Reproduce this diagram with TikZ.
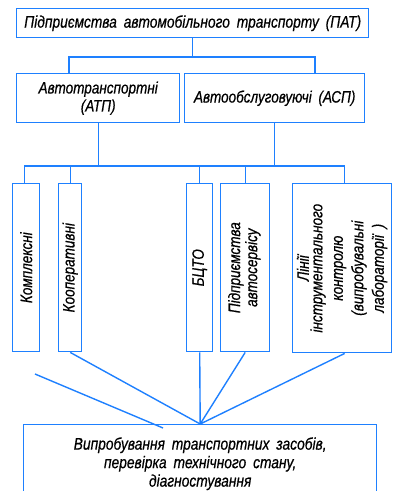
\documentclass[tikz,border=0pt]{standalone}
\usepackage{fontspec}
\newfontfamily\nf[FakeStretch=0.82,WordSpace=1.8,FakeBold=0.6]{Liberation Sans}
\definecolor{ln}{RGB}{30,128,255}
\begin{document}
\begin{tikzpicture}[x=1pt,y=-1pt,
  bx/.style={draw=ln,line width=1.4pt,inner sep=0pt,anchor=north west,align=center},
  cn/.style={draw=ln,line width=1.4pt},
  ta/.style={font=\nf\itshape\fontsize{16.8}{18.5}\selectfont},
  tb/.style={font=\nf\itshape\fontsize{16.5}{18}\selectfont},
  tv/.style={font=\nf\itshape\fontsize{16.5}{17}\selectfont}]
\useasboundingbox (0,0) rectangle (392,491);
\clip (0,0) rectangle (392,491);
\node[bx,ta,minimum width=352,minimum height=29] (pat) at (16,8) {Підприємства автомобільного транспорту (ПАТ)};
\node[bx,tb,minimum width=163,minimum height=49] (atp) at (16,73) {Автотранспортні\\(АТП)};
\node[bx,tb,minimum width=180,minimum height=49] (asp) at (184,73) {Автообслуговуючі (АСП)};
\node[bx,tv,minimum width=27,minimum height=168] (kom) at (12,183) {\rotatebox{90}{Комплексні}};
\node[bx,tv,minimum width=23,minimum height=168] (koop) at (58,183) {\rotatebox{90}{Кооперативні}};
\node[bx,tv,minimum width=26,minimum height=168] (bcto) at (186,183) {\rotatebox{90}{БЦТО}};
\node[bx,tv,minimum width=49,minimum height=168] (avs) at (220,183) {\rotatebox{90}{\begin{tabular}{@{}c@{}}Підприємства\\автосервісу\end{tabular}}};
\node[bx,tv,minimum width=99,minimum height=169] (lin) at (292,183) {\rotatebox{90}{\fontsize{16.5}{20.5}\selectfont\begin{tabular}{@{}c@{}}Лінії\\[-7pt]інструментального\\контролю\\(випробувальні\\лабораторії )\end{tabular}}};
\node[bx,ta,minimum width=353,minimum height=78] (bot) at (23,424) {Випробування транспортних засобів,\\перевірка технічного стану,\\діагностування};
\coordinate (r1) at (0,57);
\coordinate (r2) at (0,166);
\coordinate (f1) at (35,374);
\coordinate (f2) at (163,428);
\draw[cn] (pat.south) -- (pat.south |- r1);
\draw[cn] ([xshift=53pt]atp.north west) -- ([xshift=53pt]atp.north west |- r1) -- ([xshift=131pt]asp.north west |- r1) -- ([xshift=131pt]asp.north west);
\draw[cn] (atp.south) -- (atp.south |- r2);
\draw[cn] (asp.south) -- (asp.south |- r2);
\draw[cn] ([xshift=-1.5pt]kom.north) -- ([xshift=-1.5pt]kom.north |- r2) -- ([xshift=2.5pt]lin.north |- r2) -- ([xshift=2.5pt]lin.north);
\draw[cn] (koop.north) -- (koop.north |- r2);
\draw[cn] (bcto.north) -- (bcto.north |- r2);
\draw[cn] (avs.north) -- (avs.north |- r2);
\draw[cn] (koop.south) -- (bot.north);
\draw[cn] (bcto.south) -- (bot.north);
\draw[cn] (avs.south) -- (bot.north);
\draw[cn] ([xshift=2.5pt]lin.south) -- (bot.north);
\draw[cn] (f1) -- (f2);
\end{tikzpicture}
\end{document}
